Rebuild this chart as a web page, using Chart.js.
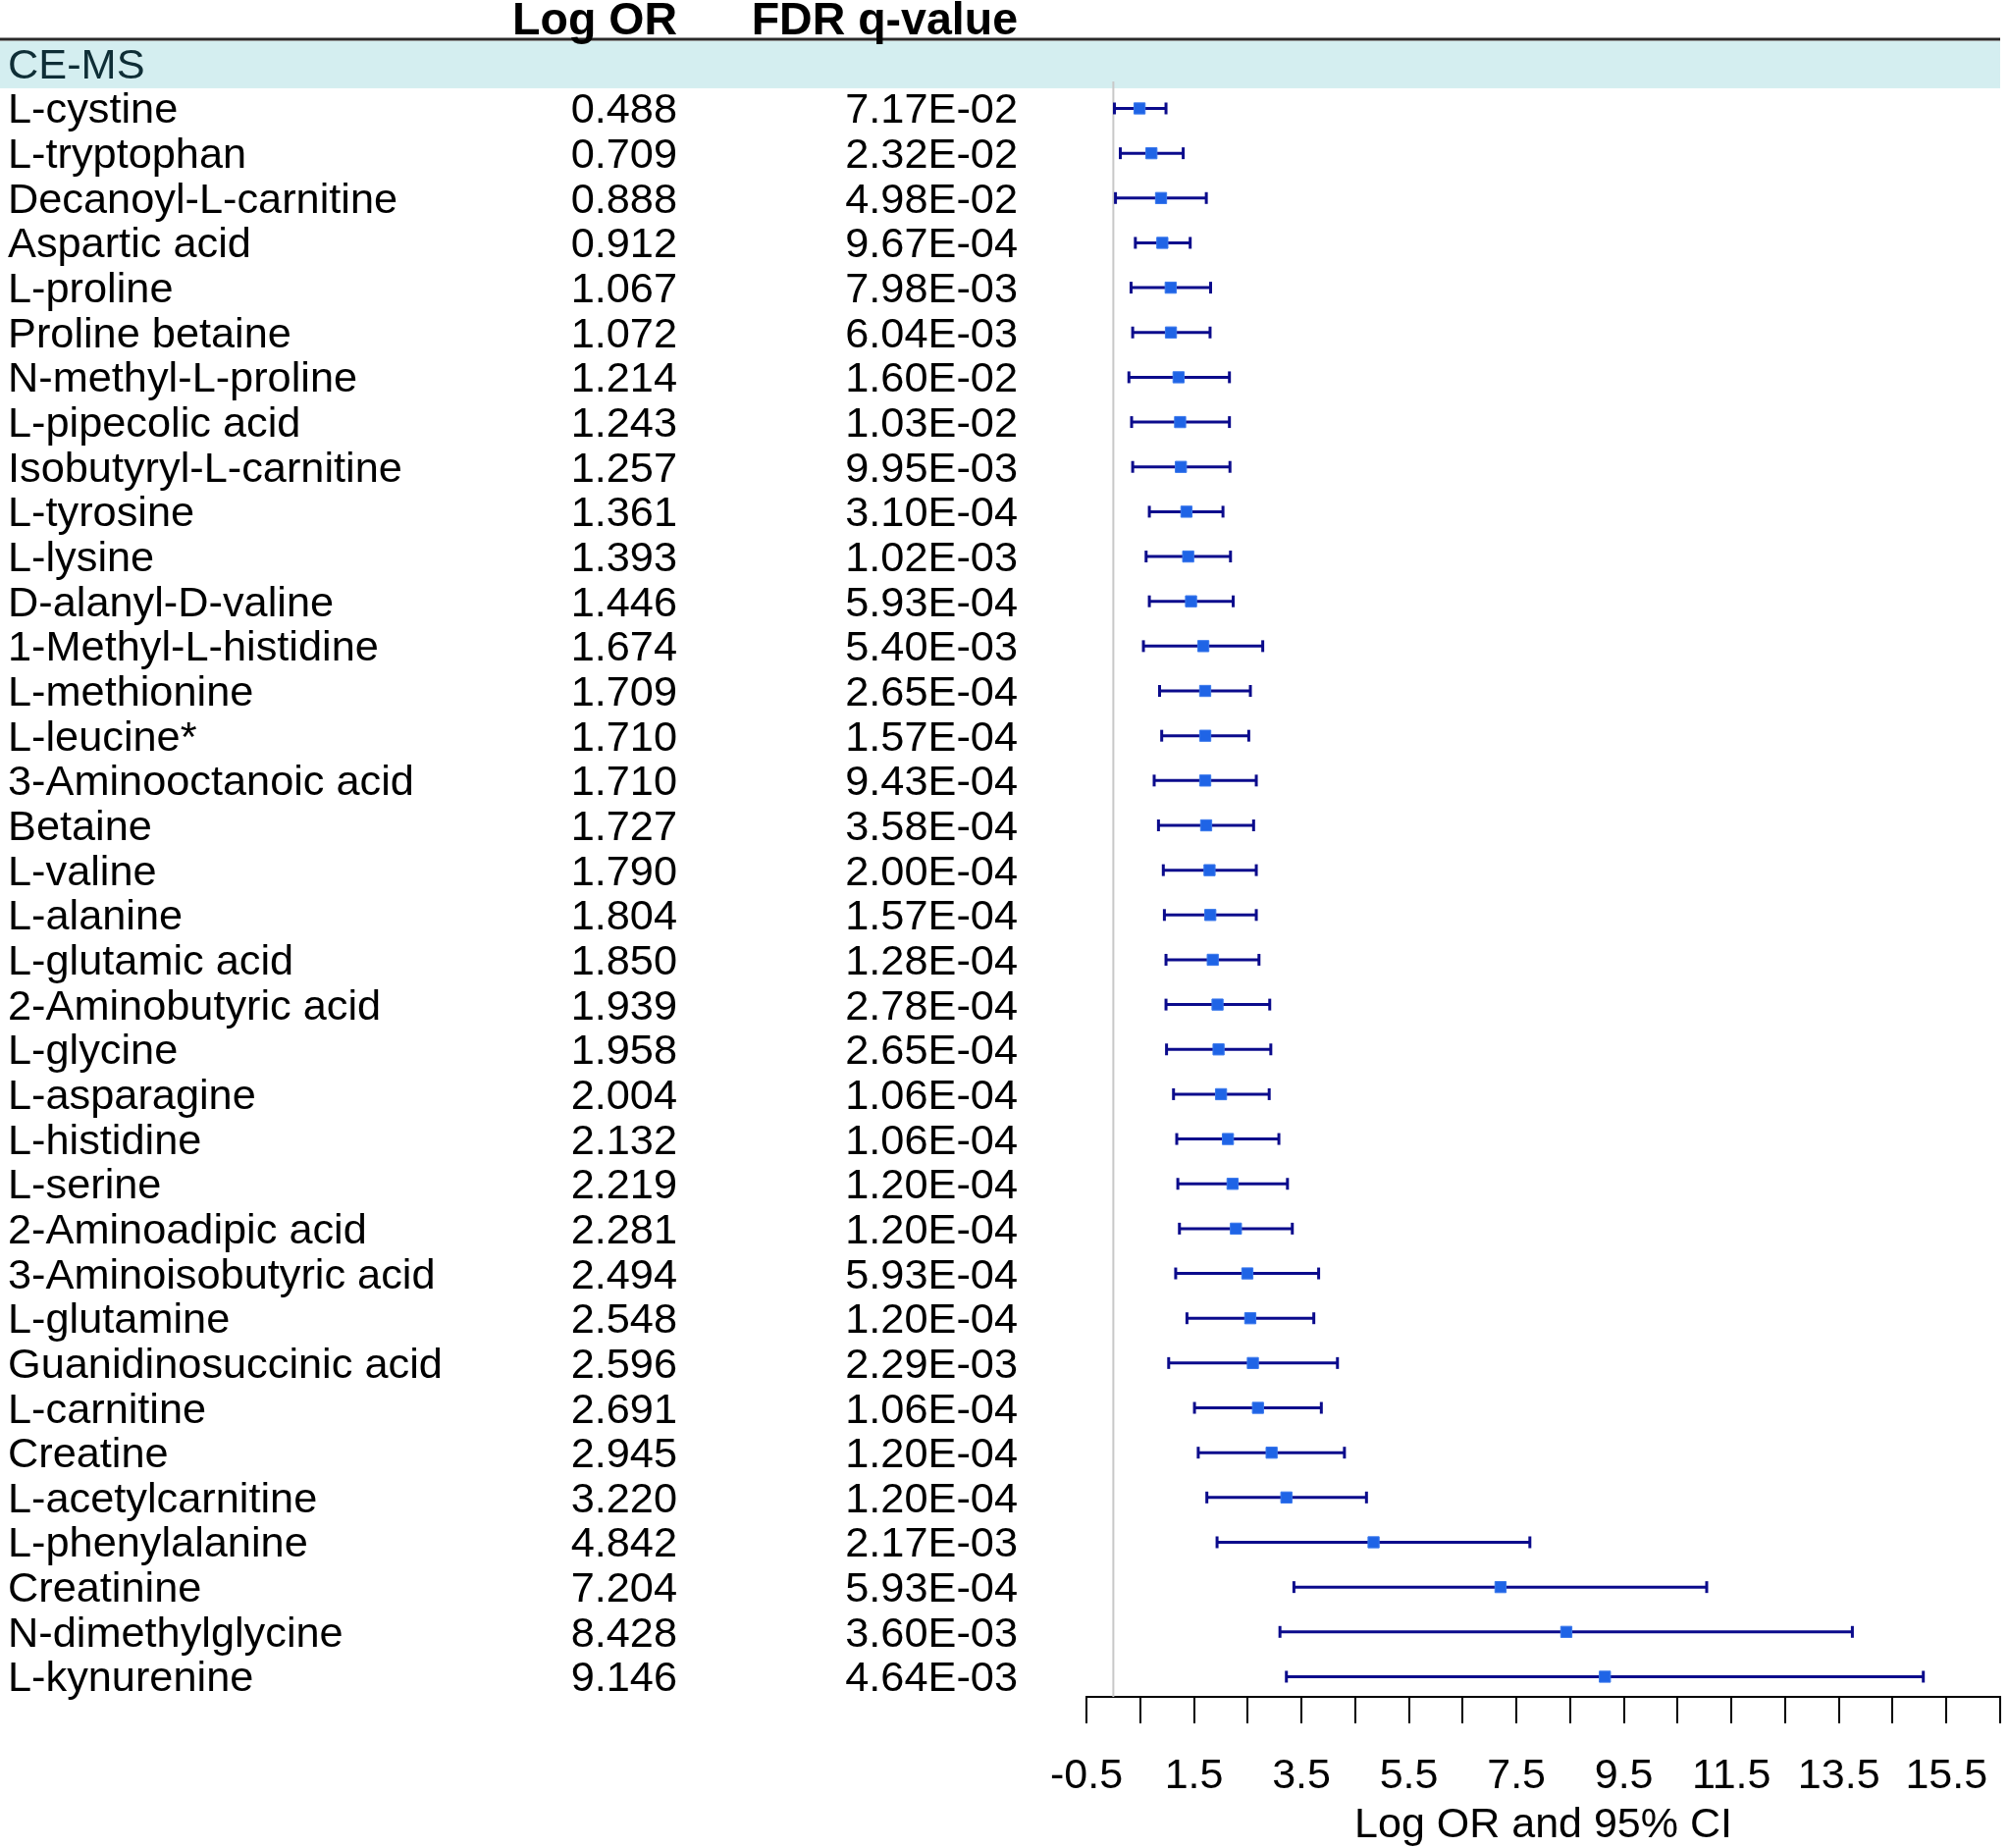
<!DOCTYPE html>
<html>
<head>
<meta charset="utf-8">
<script src="https://cdn.jsdelivr.net/npm/chart.js@4.4.1/dist/chart.umd.min.js"></script>
<style>
  html, body { margin: 0; padding: 0; background: #ffffff; overflow: hidden; }
  #wrap { position: relative; width: 2047px; height: 1883px; }
  #c { position: absolute; left: 0; top: 0; display: block; }
  .t { position: absolute; white-space: nowrap; font-family: "Liberation Sans", Arial, sans-serif;
       font-size: 43.3px; line-height: 46px; height: 46px; color: #000; }
  .b { font-weight: bold; font-size: 46.5px; }
  .l { text-align: left; }
  .r { text-align: right; }
</style>
</head>
<body>
<div id="wrap">
  <canvas id="c" width="2047" height="1883"></canvas>
</div>
<script>
// ---------------- data ----------------
const groupLabel = "CE-MS";
const columnHeaders = ["Log OR", "FDR q-value"];
const names = ["L-cystine","L-tryptophan","Decanoyl-L-carnitine","Aspartic acid","L-proline","Proline betaine",
  "N-methyl-L-proline","L-pipecolic acid","Isobutyryl-L-carnitine","L-tyrosine","L-lysine","D-alanyl-D-valine",
  "1-Methyl-L-histidine","L-methionine","L-leucine*","3-Aminooctanoic acid","Betaine","L-valine","L-alanine",
  "L-glutamic acid","2-Aminobutyric acid","L-glycine","L-asparagine","L-histidine","L-serine","2-Aminoadipic acid",
  "3-Aminoisobutyric acid","L-glutamine","Guanidinosuccinic acid","L-carnitine","Creatine","L-acetylcarnitine",
  "L-phenylalanine","Creatinine","N-dimethylglycine","L-kynurenine"];
const logOR = [0.488,0.709,0.888,0.912,1.067,1.072,1.214,1.243,1.257,1.361,1.393,1.446,1.674,1.709,1.710,1.710,
  1.727,1.790,1.804,1.850,1.939,1.958,2.004,2.132,2.219,2.281,2.494,2.548,2.596,2.691,2.945,3.220,4.842,7.204,8.428,9.146];
const qValues = ["7.17E-02","2.32E-02","4.98E-02","9.67E-04","7.98E-03","6.04E-03","1.60E-02","1.03E-02","9.95E-03",
  "3.10E-04","1.02E-03","5.93E-04","5.40E-03","2.65E-04","1.57E-04","9.43E-04","3.58E-04","2.00E-04","1.57E-04",
  "1.28E-04","2.78E-04","2.65E-04","1.06E-04","1.06E-04","1.20E-04","1.20E-04","5.93E-04","1.20E-04","2.29E-03",
  "1.06E-04","1.20E-04","1.20E-04","2.17E-03","5.93E-04","3.60E-03","4.64E-03"];
const ciLow = [0.02,0.13,0.04,0.41,0.33,0.36,0.29,0.34,0.36,0.67,0.61,0.67,0.56,0.86,0.90,0.76,0.84,0.93,0.95,0.98,
  0.98,0.99,1.12,1.18,1.20,1.23,1.16,1.37,1.03,1.51,1.58,1.74,1.93,3.36,3.10,3.22];
const ciHigh = [0.98,1.30,1.73,1.43,1.81,1.80,2.16,2.16,2.17,2.04,2.18,2.23,2.78,2.55,2.52,2.66,2.61,2.66,2.66,2.71,
  2.91,2.93,2.90,3.08,3.24,3.33,3.82,3.73,4.17,3.87,4.30,4.71,7.75,11.04,13.75,15.07];
const xTickValues = [-0.5,0.5,1.5,2.5,3.5,4.5,5.5,6.5,7.5,8.5,9.5,10.5,11.5,12.5,13.5,14.5,15.5,16.5];
const xTickLabels = ["-0.5","","1.5","","3.5","","5.5","","7.5","","9.5","","11.5","","13.5","","15.5",""];
const xTitle = "Log OR and 95% CI";

// ---------------- chart ----------------
const FONT = '"Liberation Sans", Arial, sans-serif';
Chart.defaults.font.family = FONT;
Chart.defaults.color = '#000';

const markerDs = {
  label: 'Log OR',
  data: logOR.map((v, i) => ({x: v, y: i})),
  pointStyle: 'rect',
  pointRadius: 8,
  pointHoverRadius: 8,
  backgroundColor: '#1f64e6',
  borderColor: '#3a78ec',
  pointBorderWidth: 1,
  showLine: false
};
const ciDs = names.map((n, i) => ({
  label: n,
  data: [{x: ciLow[i], y: i}, {x: ciHigh[i], y: i}],
  showLine: true,
  borderColor: '#0b0b8c',
  borderWidth: 3,
  pointStyle: 'line',
  pointRotation: 90,
  pointRadius: 6,
  pointHoverRadius: 6,
  pointBorderWidth: 3,
  pointBorderColor: '#0b0b8c',
  backgroundColor: '#0b0b8c'
}));
const zeroDs = {
  label: 'zero',
  data: [{x: 0, y: -0.6}, {x: 0, y: 35.45}],
  showLine: true,
  borderColor: '#c8c8c8',
  borderWidth: 2,
  pointRadius: 0,
  pointHoverRadius: 0
};

const bandPlugin = {
  id: 'band',
  beforeDatasetsDraw(chart) {
    const {ctx, scales: {y}, chartArea} = chart;
    const top = y.getPixelForValue(-1.5);
    const bot = y.getPixelForValue(-0.45);
    ctx.save();
    ctx.fillStyle = '#d4eef0';
    ctx.fillRect(0, top, chartArea.right, bot - top);
    ctx.strokeStyle = '#2a2a2a';
    ctx.lineWidth = 3;
    ctx.beginPath();
    ctx.moveTo(0, top - 2);
    ctx.lineTo(chartArea.right, top - 2);
    ctx.stroke();
    ctx.restore();
  }
};

const chart = new Chart(document.getElementById('c'), {
  type: 'scatter',
  data: { datasets: [markerDs].concat(ciDs, [zeroDs]) },
  options: {
    responsive: false,
    animation: false,
    devicePixelRatio: 1,
    layout: { padding: { left: 1107, right: 7, top: 42, bottom: 0 } },
    plugins: { legend: { display: false }, tooltip: { enabled: false } },
    scales: {
      x: {
        type: 'linear',
        position: 'bottom',
        min: -0.5,
        max: 16.5,
        afterBuildTicks: s => { s.ticks = xTickValues.map(v => ({value: v})); },
        afterFit: s => { s.height = 154; },
        ticks: {
          autoSkip: false,
          maxRotation: 0,
          minRotation: 0,
          padding: 0,
          color: '#000',
          font: { family: FONT, size: 43, lineHeight: 2.52 },
          callback: (v, i) => xTickLabels[i]
        },
        grid: { drawOnChartArea: false, drawTicks: true, tickLength: 27, color: '#000', lineWidth: 2 },
        border: { display: true, color: '#000', width: 2 },
        title: {
          display: true,
          text: xTitle,
          color: '#000',
          font: { family: FONT, size: 43, lineHeight: 1 },
          padding: { top: 0, bottom: 1 }
        }
      },
      y: {
        type: 'linear',
        display: false,
        reverse: true,
        min: -1.5,
        max: 35.45
      }
    }
  },
  plugins: [bandPlugin]
});

// ---------------- text table (positioned from the chart's y scale) ----------------
const wrap = document.getElementById('wrap');
const ys = chart.scales.y;
function addText(txt, cls, left, width, rowVal, extraStyle) {
  const d = document.createElement('div');
  d.className = 't ' + cls;
  d.textContent = txt;
  d.style.left = left + 'px';
  d.style.width = width + 'px';
  d.style.top = (ys.getPixelForValue(rowVal) - 23) + 'px';
  if (extraStyle) Object.assign(d.style, extraStyle);
  wrap.appendChild(d);
}
addText(columnHeaders[0], 'b r', 390, 300, -2);
addText(columnHeaders[1], 'b r', 737, 300, -2);
addText(groupLabel, 'l', 8, 400, -1, { color: '#0f2e36' });
names.forEach((n, i) => {
  addText(n, 'l', 8, 560, i);
  addText(logOR[i].toFixed(3), 'r', 490, 200, i);
  addText(qValues[i], 'r', 837, 200, i);
});
</script>
</body>
</html>
